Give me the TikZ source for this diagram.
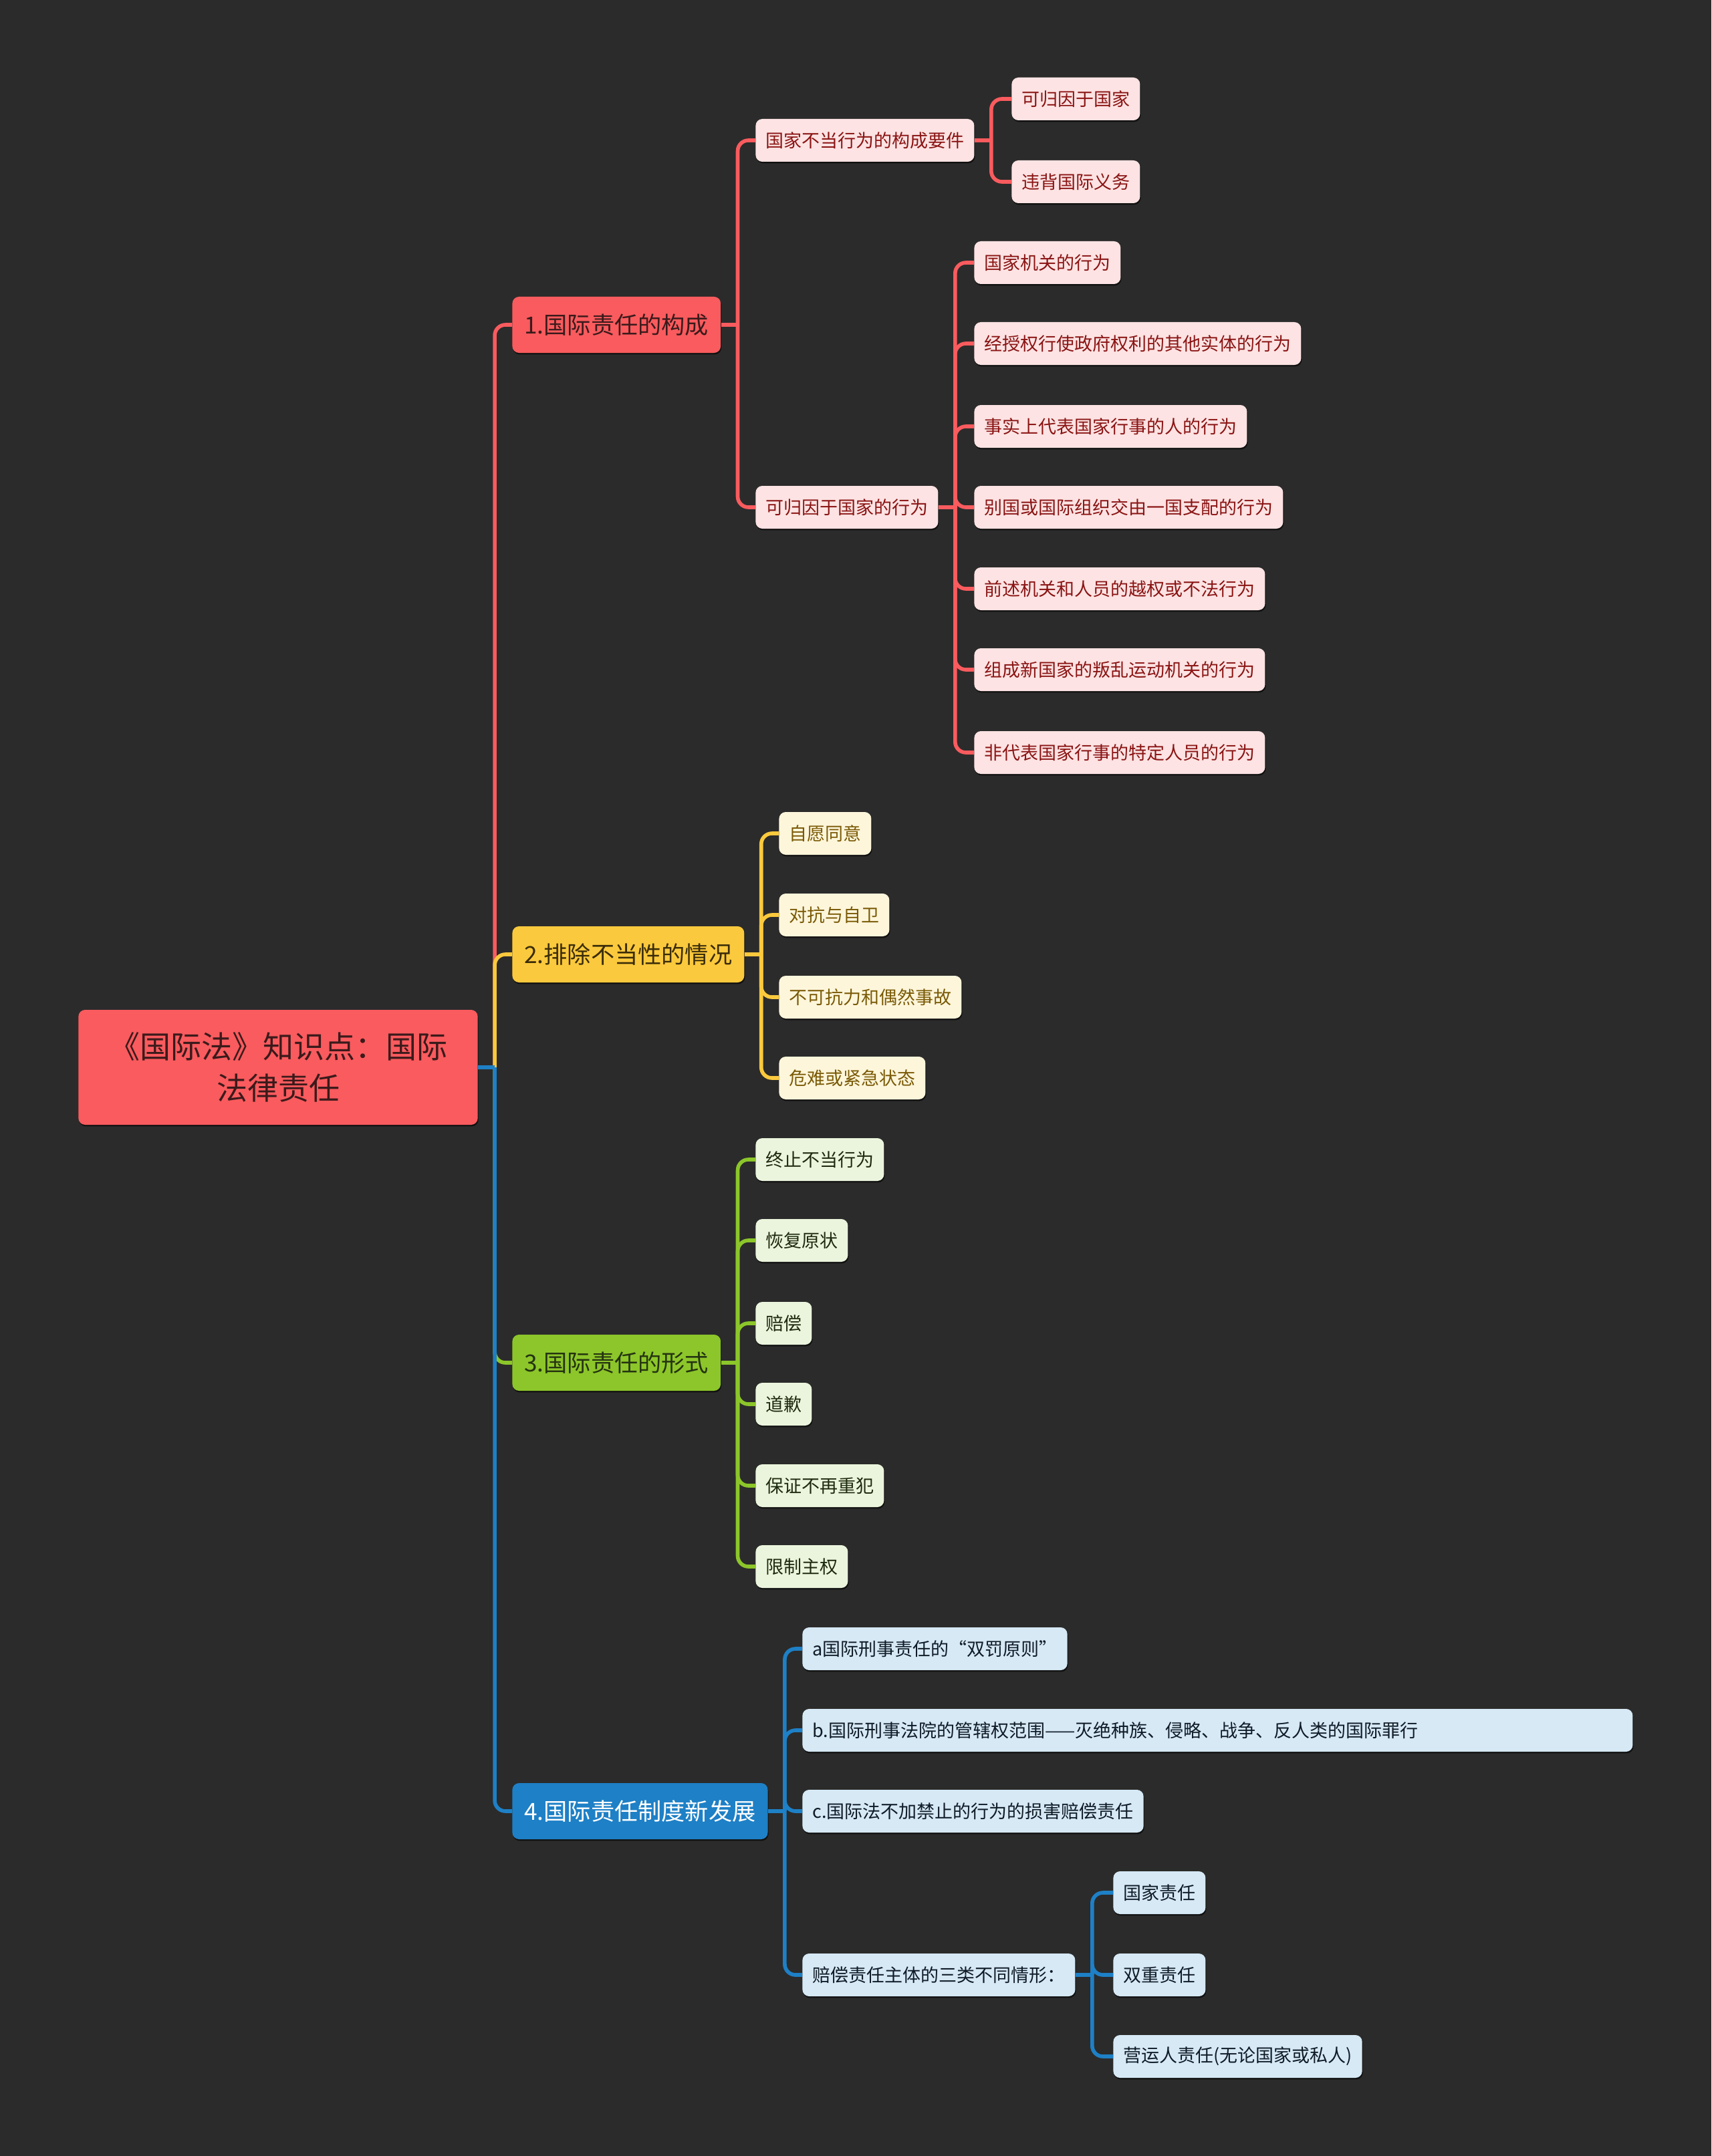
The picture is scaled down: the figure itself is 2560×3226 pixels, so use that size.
\documentclass[tikz,border=0pt]{standalone}
\usepackage{fontspec}
\setmainfont{Noto Sans CJK SC}
\usepackage{xcolor}
\usepackage{tikz}
\usetikzlibrary{shadows,backgrounds}
\definecolor{bgdark}{HTML}{2B2B2B}
\definecolor{mred}{HTML}{F95B5E}
\definecolor{myellow}{HTML}{FBC93D}
\definecolor{mgreen}{HTML}{8CC62A}
\definecolor{mblue}{HTML}{1E80C6}
\definecolor{lred}{HTML}{FDE3E3}
\definecolor{lyellow}{HTML}{FEF6DB}
\definecolor{lgreen}{HTML}{EBF5DD}
\definecolor{lblue}{HTML}{D6E9F5}
\definecolor{redink}{HTML}{3B1A1B}
\definecolor{yink}{HTML}{3A2C08}
\definecolor{gink}{HTML}{243310}
\definecolor{lredink}{HTML}{8A1414}
\definecolor{lyink}{HTML}{7A5A06}
\definecolor{lgink}{HTML}{1E2A0E}
\definecolor{lbink}{HTML}{0F1B27}
\tikzstyle{box}+=[rectangle,rounded corners=5pt,anchor=west,drop shadow={shadow xshift=0.5pt,shadow yshift=-1.2pt,fill=black,opacity=0.6}]
\tikzstyle{root}+=[box,anchor=center,fill=mred,text=redink,font=\fontsize{23}{31}\selectfont,align=center,text width=292pt,minimum height=86pt]
\tikzstyle{main}+=[box,font=\fontsize{17.6}{22}\selectfont,inner xsep=9pt,minimum height=42pt]
\tikzstyle{leaf}+=[box,font=\fontsize{13.5}{16}\selectfont,inner xsep=7.5pt,minimum height=32pt]
\tikzstyle{link}+=[line width=2.8pt]
\tikzstyle{elbow}+=[link,rounded corners=8pt]

\begin{document}
\begin{tikzpicture}[x=0.5pt,y=-0.5pt]
    \fill[bgdark] (0,0) rectangle (2560,3226);
    % root and main branches
    \node[root] (root) at (416,1597) {《国际法》知识点：国际\\法律责任};
    \node[main,fill=mred,text=redink] (b1) at (766,486) {1.国际责任的构成};
    \node[main,fill=myellow,text=yink] (b2) at (766,1428) {2.排除不当性的情况};
    \node[main,fill=mgreen,text=gink] (b3) at (766,2039) {3.国际责任的形式};
    \node[main,fill=mblue,text=white] (b4) at (766,2710) {4.国际责任制度新发展};
    \path (root.east) -- ++(25,0) coordinate (t0);
    \foreach \b/\c in {b1/mred,b2/myellow,b3/mgreen,b4/mblue}
      \draw[elbow,\c] (t0) |- (\b.west);
    \draw[link,mblue] (root.east) -- (t0);

    % 1
    \draw[link,mred] (b1.east) -- ++(25,0) coordinate (j1);
    \node[leaf,fill=lred,text=lredink] (c11) at (1130,210) {国家不当行为的构成要件};
    \node[leaf,fill=lred,text=lredink] (c12) at (1130,759) {可归因于国家的行为};
    \draw[elbow,mred] (j1) |- (c11.west);
    \draw[elbow,mred] (j1) |- (c12.west);
    \draw[link,mred] (c11.east) -- ++(25,0) coordinate (j11);
    \foreach \i/\y/\txt in {1/148/可归因于国家,2/272/违背国际义务} {
      \node[leaf,fill=lred,text=lredink] (d1\i) at (1513,\y) {\txt};
      \draw[elbow,mred] (j11) |- (d1\i.west);
    }
    \draw[link,mred] (c12.east) -- ++(25,0) coordinate (j12);
    \foreach \i/\y/\txt in {1/393/国家机关的行为,2/514/经授权行使政府权利的其他实体的行为,
      3/638/事实上代表国家行事的人的行为,4/759/别国或国际组织交由一国支配的行为,
      5/881/前述机关和人员的越权或不法行为,6/1002/组成新国家的叛乱运动机关的行为,
      7/1126/非代表国家行事的特定人员的行为} {
      \node[leaf,fill=lred,text=lredink] (d2\i) at (1457,\y) {\txt};
      \draw[elbow,mred] (j12) |- (d2\i.west);
    }

    % 2
    \draw[link,myellow] (b2.east) -- ++(25,0) coordinate (j2);
    \foreach \i/\y/\txt in {1/1247/自愿同意,2/1369/对抗与自卫,3/1492/不可抗力和偶然事故,4/1613/危难或紧急状态} {
      \node[leaf,fill=lyellow,text=lyink] (y\i) at (1165,\y) {\txt};
      \draw[elbow,myellow] (j2) |- (y\i.west);
    }

    % 3
    \draw[link,mgreen] (b3.east) -- ++(25,0) coordinate (j3);
    \foreach \i/\y/\txt in {1/1735/终止不当行为,2/1856/恢复原状,3/1980/赔偿,4/2101/道歉,5/2223/保证不再重犯,6/2344/限制主权} {
      \node[leaf,fill=lgreen,text=lgink] (g\i) at (1130,\y) {\txt};
      \draw[elbow,mgreen] (j3) |- (g\i.west);
    }

    % 4
    \draw[link,mblue] (b4.east) -- ++(25,0) coordinate (j4);
    \node[leaf,fill=lblue,text=lbink] (ba) at (1200,2467) {a国际刑事责任的“双罚原则”};
    \node[leaf,fill=lblue,text=lbink,text width=606pt] (bb) at (1200,2589) {b.国际刑事法院的管辖权范围——灭绝种族、侵略、战争、反人类的国际罪行};
    \node[leaf,fill=lblue,text=lbink] (bc) at (1200,2710) {c.国际法不加禁止的行为的损害赔偿责任};
    \node[leaf,fill=lblue,text=lbink] (bd) at (1200,2955) {赔偿责任主体的三类不同情形：};
    \foreach \n in {ba,bb,bc,bd}
      \draw[elbow,mblue] (j4) |- (\n.west);
    \draw[link,mblue] (bd.east) -- ++(25,0) coordinate (j44);
    \foreach \i/\y/\txt in {1/2832/国家责任,2/2955/双重责任,3/3077/营运人责任(无论国家或私人)} {
      \node[leaf,fill=lblue,text=lbink] (bd\i) at (1665,\y) {\txt};
      \draw[elbow,mblue] (j44) |- (bd\i.west);
    }
  \end{tikzpicture}
\end{document}
